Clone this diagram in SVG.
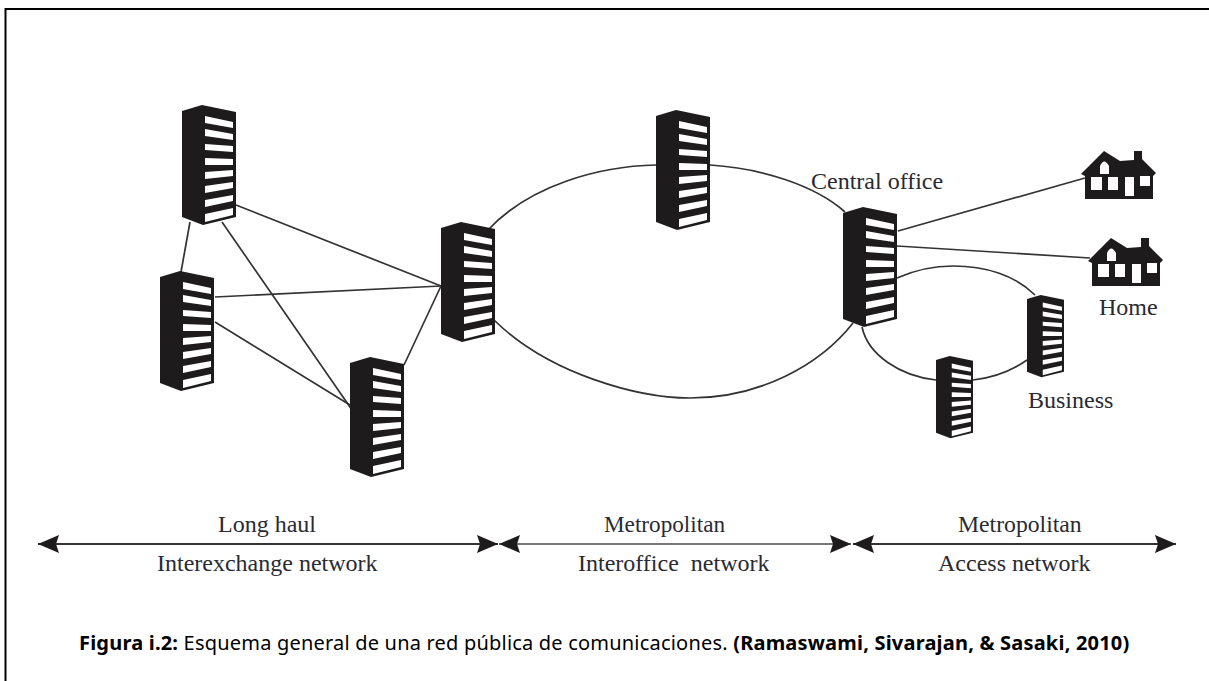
<svg xmlns="http://www.w3.org/2000/svg" width="1209" height="681" viewBox="0 0 1209 681">
<style>
.c{fill:none;stroke:#333;stroke-width:1.7}
.a{fill:none;stroke:#333;stroke-width:2}
.t{font-family:"Liberation Serif",serif;font-size:24px;fill:#2a2a32}
.cap{font-family:"Noto Sans","Open Sans",sans-serif;font-size:20px;letter-spacing:.2px;fill:#000}
.b{font-weight:700}
.bk{fill:#1d1b1b}
.wh{fill:#fff}
</style>
<defs>
<marker id="ah" markerUnits="userSpaceOnUse" markerWidth="24" markerHeight="22" refX="21" refY="10" orient="auto-start-reverse">
<path d="M0,1 L21,10 L0,19 L3,10 Z" fill="#1d1b1b"/>
</marker>
<g id="bld">
<path class="bk" d="M0,6 L20,0 L54,7 L54,112 L21,120 L0,112 Z"/>
<path class="wh" d="M23,11 L51,17 L51,23 L23,18 Z M23,24 L51,29 L51,35 L23,31 Z M23,39 L51,41 L51,47 L23,45 Z M23,53 L51,54 L51,60 L23,60 Z M23,67 L51,65 L51,71 L23,74 Z M23,81 L51,77 L51,83 L23,88 Z M23,95 L51,90 L51,96 L23,102 Z M23,109 L51,103 L51,110 L23,117 Z"/>
</g>
<g id="hs">
<path class="bk" d="M0,23 L23,0 L39,10 L53,9 L53,0 L61,0 L61,8 L75,22 L72,25 L72,48 L4,48 L4,25 Z"/>
<path class="wh" d="M10,26 H21 V39 H10 Z M27,26 H37 V39 H27 Z M44,26 H53 V45 H44 Z M59,25 H69 V35 H59 Z M19,23 V15 Q23,6 28,15 V23 Z"/>
</g>
</defs>
<rect width="1209" height="681" fill="#fff"/>
<path d="M5.5,681 V9 H1209" fill="none" stroke="#000" stroke-width="2"/>
<g id="connectors">
<path class="c" d="M190,222 L181,272"/>
<path class="c" d="M222,222 L352,410"/>
<path class="c" d="M236,205 L441,286"/>
<path class="c" d="M215,297 L441,286"/>
<path class="c" d="M215,322 L350,405"/>
<path class="c" d="M404,365 L441,286"/>
<path class="c" d="M488,230 C530,185 600,166 656,165"/>
<path class="c" d="M710,165 C760,168 815,185 845,212"/>
<path class="c" d="M494,320 C550,375 640,398 690,398 C760,398 820,365 853,323"/>
<path class="c" d="M898,231 L1085,178"/>
<path class="c" d="M897,246 L1090,258"/>
<path class="c" d="M897,278 C915,270 935,266 953,266 C985,266 1015,275 1035,295"/>
<path class="c" d="M862,327 C868,355 900,376 936,380"/>
<path class="c" d="M973,380 C990,378 1010,372 1027,360"/>
<path class="a" marker-start="url(#ah)" marker-end="url(#ah)" d="M38,544 H498"/>
<path class="a" style="stroke:#777" marker-start="url(#ah)" marker-end="url(#ah)" d="M499,544 H851"/>
<path class="a" marker-start="url(#ah)" marker-end="url(#ah)" d="M853,544 H1176"/>
</g>
<use id="node-lh1" href="#bld" x="182" y="105"/>
<use id="node-lh2" href="#bld" x="160" y="271"/>
<use id="node-lh3" href="#bld" x="350" y="357"/>
<use id="node-lh4" href="#bld" x="441" y="222"/>
<use id="node-io" href="#bld" x="656" y="110"/>
<use id="node-co" href="#bld" x="843" y="207"/>
<use id="node-biz1" href="#bld" transform="translate(1027,295) scale(.685)"/>
<use id="node-biz2" href="#bld" transform="translate(936,356) scale(.685)"/>
<use id="node-home1" href="#hs" x="1081" y="151"/>
<use id="node-home2" href="#hs" x="1088" y="238"/>
<g id="labels">
<text class="t" x="811" y="189">Central office</text>
<text class="t" x="1099" y="315">Home</text>
<text class="t" x="1028" y="408">Business</text>
<text class="t" x="218" y="532">Long haul</text>
<text class="t" x="157" y="571">Interexchange network</text>
<text class="t" x="604" y="532" style="font-size:23.2px">Metropolitan</text>
<text class="t" x="578" y="571" xml:space="preserve">Interoffice  network</text>
<text class="t" x="958" y="532" style="font-size:23.7px">Metropolitan</text>
<text class="t" x="938" y="571">Access network</text>
<text class="cap" x="79" y="650"><tspan class="b">Figura i.2:</tspan> Esquema general de una red pública de comunicaciones. <tspan class="b">(Ramaswami, Sivarajan, &amp; Sasaki, 2010)</tspan></text>
</g>
</svg>
